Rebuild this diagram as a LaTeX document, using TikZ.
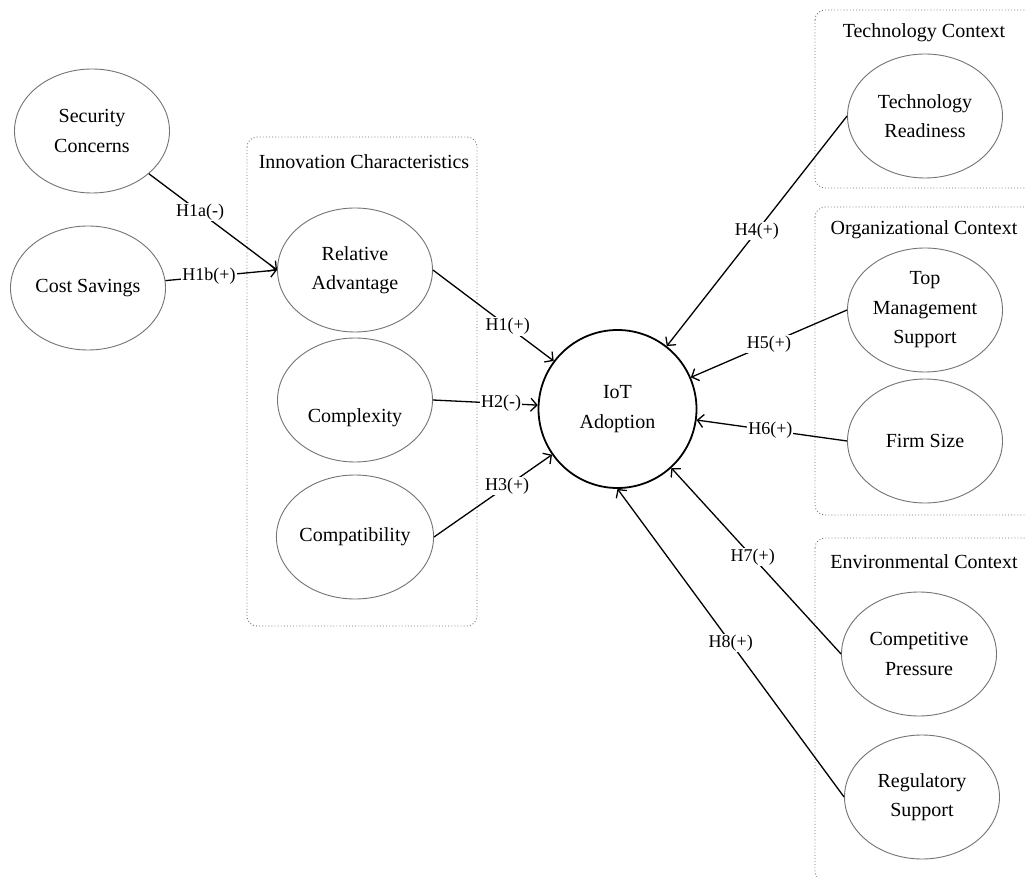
\documentclass[tikz,border=0pt]{standalone}
\usepackage{fontspec}
\setmainfont{Liberation Serif}
\usetikzlibrary{shapes.geometric,arrows.meta}
\begin{document}
\begin{tikzpicture}[x=1pt,y=-1pt,
  every node/.style={font=\fontsize{20}{29.5}\selectfont},
  construct/.style={ellipse, draw=black!55, line width=0.9pt, minimum width=155pt, minimum height=124pt, inner sep=0pt, align=center},
  core/.style={circle, draw=black, line width=1.8pt, minimum size=158pt, inner sep=0pt, align=center},
  ctxbox/.style={draw=black!55, line width=0.9pt, dash pattern=on 0.9pt off 2.2pt, rounded corners=10pt},
  hypline/.style={line width=1.3pt, -{Straight Barb[length=6pt,width=13pt]}},
  hyp/.style={fill=white, inner sep=1pt, font=\fontsize{18}{22}\selectfont}]
\fill[white] (0,0) rectangle (1026,877);
\useasboundingbox (0,0) rectangle (1026,877);

% group boxes
\draw[ctxbox] (247,137) rectangle (477,626);
\draw[ctxbox] (815,10) rectangle (1040,188);
\draw[ctxbox] (815,207) rectangle (1040,515);
\draw[ctxbox] (815,538) rectangle (1040,882);

\node (tIC) at (364,162) {Innovation Characteristics};
\node (tTC) at (924,33) {Technology Context};
\node (tOC) at (924,230) {Organizational Context};
\node (tEC) at (924,562) {Environmental Context};

% constructs
\node[construct] (sec) at (92,131) {Security\\Concerns};
\node[construct] (cost) at (88,288) {Cost Savings};
\node[construct] (ra) at (355,270) {Relative\\Advantage};
\node[construct] (cx) at (355,400) {\strut\\Complexity};
\node[construct] (cp) at (355,537) {Compatibility};
\node[core] (iot) at (617.5,409) {IoT\\Adoption};
\node[construct] (tr) at (925,116) {Technology\\Readiness};
\node[construct] (tm) at (925,310) {Top\\Management\\Support};
\node[construct] (fs) at (925,441) {Firm Size};
\node[construct] (cpr) at (919,654) {Competitive\\Pressure};
\node[construct] (rs) at (922,797) {Regulatory\\Support};

% hypotheses
\draw[hypline] (sec) -- node[hyp, pos=0.4] {H1a(-)} (ra.west);
\draw[hypline] (cost) -- node[hyp, pos=0.39] {H1b(+)} (ra.west);
\draw[hypline] (ra.east) -- node[hyp, pos=0.62] {H1(+)} (iot);
\draw[hypline] (cx.east) -- node[hyp, pos=0.65] {H2(-)} (iot);
\draw[hypline] (cp.east) -- node[hyp, pos=0.62] {H3(+)} (iot);
\draw[hypline] (tr.west) -- node[hyp, pos=0.5] {H4(+)} (iot);
\draw[hypline] (tm.west) -- node[hyp, pos=0.5] {H5(+)} (iot);
\draw[hypline] (fs.west) -- node[hyp, pos=0.51] {H6(+)} (iot);
\draw[hypline] (cpr.west) -- node[hyp, pos=0.52] {H7(+)} (iot);
\draw[hypline] (rs.west) -- node[hyp, pos=0.5] {H8(+)} (iot.south);
\end{tikzpicture}
\end{document}
